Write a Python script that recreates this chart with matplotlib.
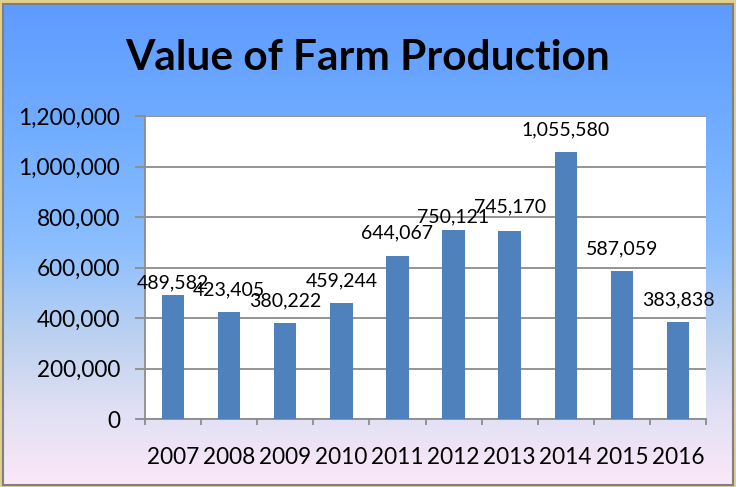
import numpy as np
import matplotlib
matplotlib.use("Agg")
import matplotlib.pyplot as plt
from matplotlib.patches import Rectangle
from matplotlib.ticker import FuncFormatter, FixedLocator

years = ["2007", "2008", "2009", "2010", "2011", "2012", "2013", "2014", "2015", "2016"]
values = [489582, 423405, 380222, 459244, 644067, 750121, 745170, 1055580, 587059, 383838]
y_ticks = [0, 200000, 400000, 600000, 800000, 1000000, 1200000]
title = "Value of Farm Production"

W, H = 736, 487
FONT = "Lato"
BAR_COLOR = "#4F81BD"
GRID_COLOR = "#8C8C8C"

# label offsets above the bar tops (points); two are pulled down like in the original
label_dy = [9, 16, 16, 16, 17, 9, 17, 16, 16, 16]

fig = plt.figure(figsize=(W / 100, H / 100), dpi=100)
fig.patch.set_facecolor("#E3CF8C")

# background gradient (blue at top -> pink at bottom)
bg = fig.add_axes([0, 0, 1, 1])
bg.set_xlim(0, W)
bg.set_ylim(H, 0)
bg.axis("off")
stops = [(0.0, (94, 155, 255)), (0.25, (112, 172, 255)), (0.5, (138, 190, 255)),
         (0.7, (190, 210, 240)), (0.85, (225, 224, 244)), (1.0, (251, 232, 248))]
ys = np.linspace(0, 1, 300)
cols = np.zeros((300, 1, 3))
for c in range(3):
    cols[:, 0, c] = np.interp(ys, [s[0] for s in stops], [s[1][c] for s in stops]) / 255
bg.imshow(cols, extent=[3, W - 3, H - 2, 4], aspect="auto", zorder=0)
bg.add_patch(Rectangle((3, 4), W - 6, H - 6, fill=False, edgecolor="#808080", lw=1.5, zorder=1))

fig.text(368 / W, 1 - 70 / H, title, ha="center", va="baseline",
         fontsize=30.5, fontweight="bold", family=FONT, color="black")

# plot area
left, right, top, bottom = 145, 706, 116, 419
ax = fig.add_axes([left / W, 1 - bottom / H, (right - left) / W, (bottom - top) / H])
ax.set_facecolor("white")

x = np.arange(len(years))
ax.bar(x, values, width=0.4, color=BAR_COLOR, zorder=3)
ax.set_xlim(-0.5, len(years) - 0.5)
ax.set_ylim(0, 1200000)

ax.set_yticks(y_ticks)
ax.yaxis.set_major_formatter(FuncFormatter(lambda v, p: f"{int(v):,}"))
ax.grid(axis="y", color=GRID_COLOR, lw=1.3, zorder=1)

ax.xaxis.set_major_locator(FixedLocator(np.arange(-0.5, len(years), 1)))
ax.xaxis.set_major_formatter(FuncFormatter(lambda v, p: ""))
ax.xaxis.set_minor_locator(FixedLocator(x))
ax.set_xticklabels(years, minor=True)

ax.tick_params(axis="y", which="major", length=7, width=1.3, color=GRID_COLOR,
               direction="out", pad=11, labelsize=16.3)
ax.tick_params(axis="x", which="major", length=4.5, width=1.3, color=GRID_COLOR, direction="out")
ax.tick_params(axis="x", which="minor", length=0, pad=20, labelsize=16.3)
for lab in ax.get_yticklabels() + ax.get_xticklabels(minor=True):
    lab.set_family(FONT)

for s in ["top", "right"]:
    ax.spines[s].set_visible(False)
for s in ["left", "bottom"]:
    ax.spines[s].set_color(GRID_COLOR)
    ax.spines[s].set_linewidth(1.3)

for xi, v, dy in zip(x, values, label_dy):
    ax.annotate(f"{v:,}", (xi, v), xytext=(0, dy), textcoords="offset points",
                ha="center", va="center", fontsize=14, family=FONT, zorder=4, clip_on=False)

fig.savefig("out.png", dpi=100)
